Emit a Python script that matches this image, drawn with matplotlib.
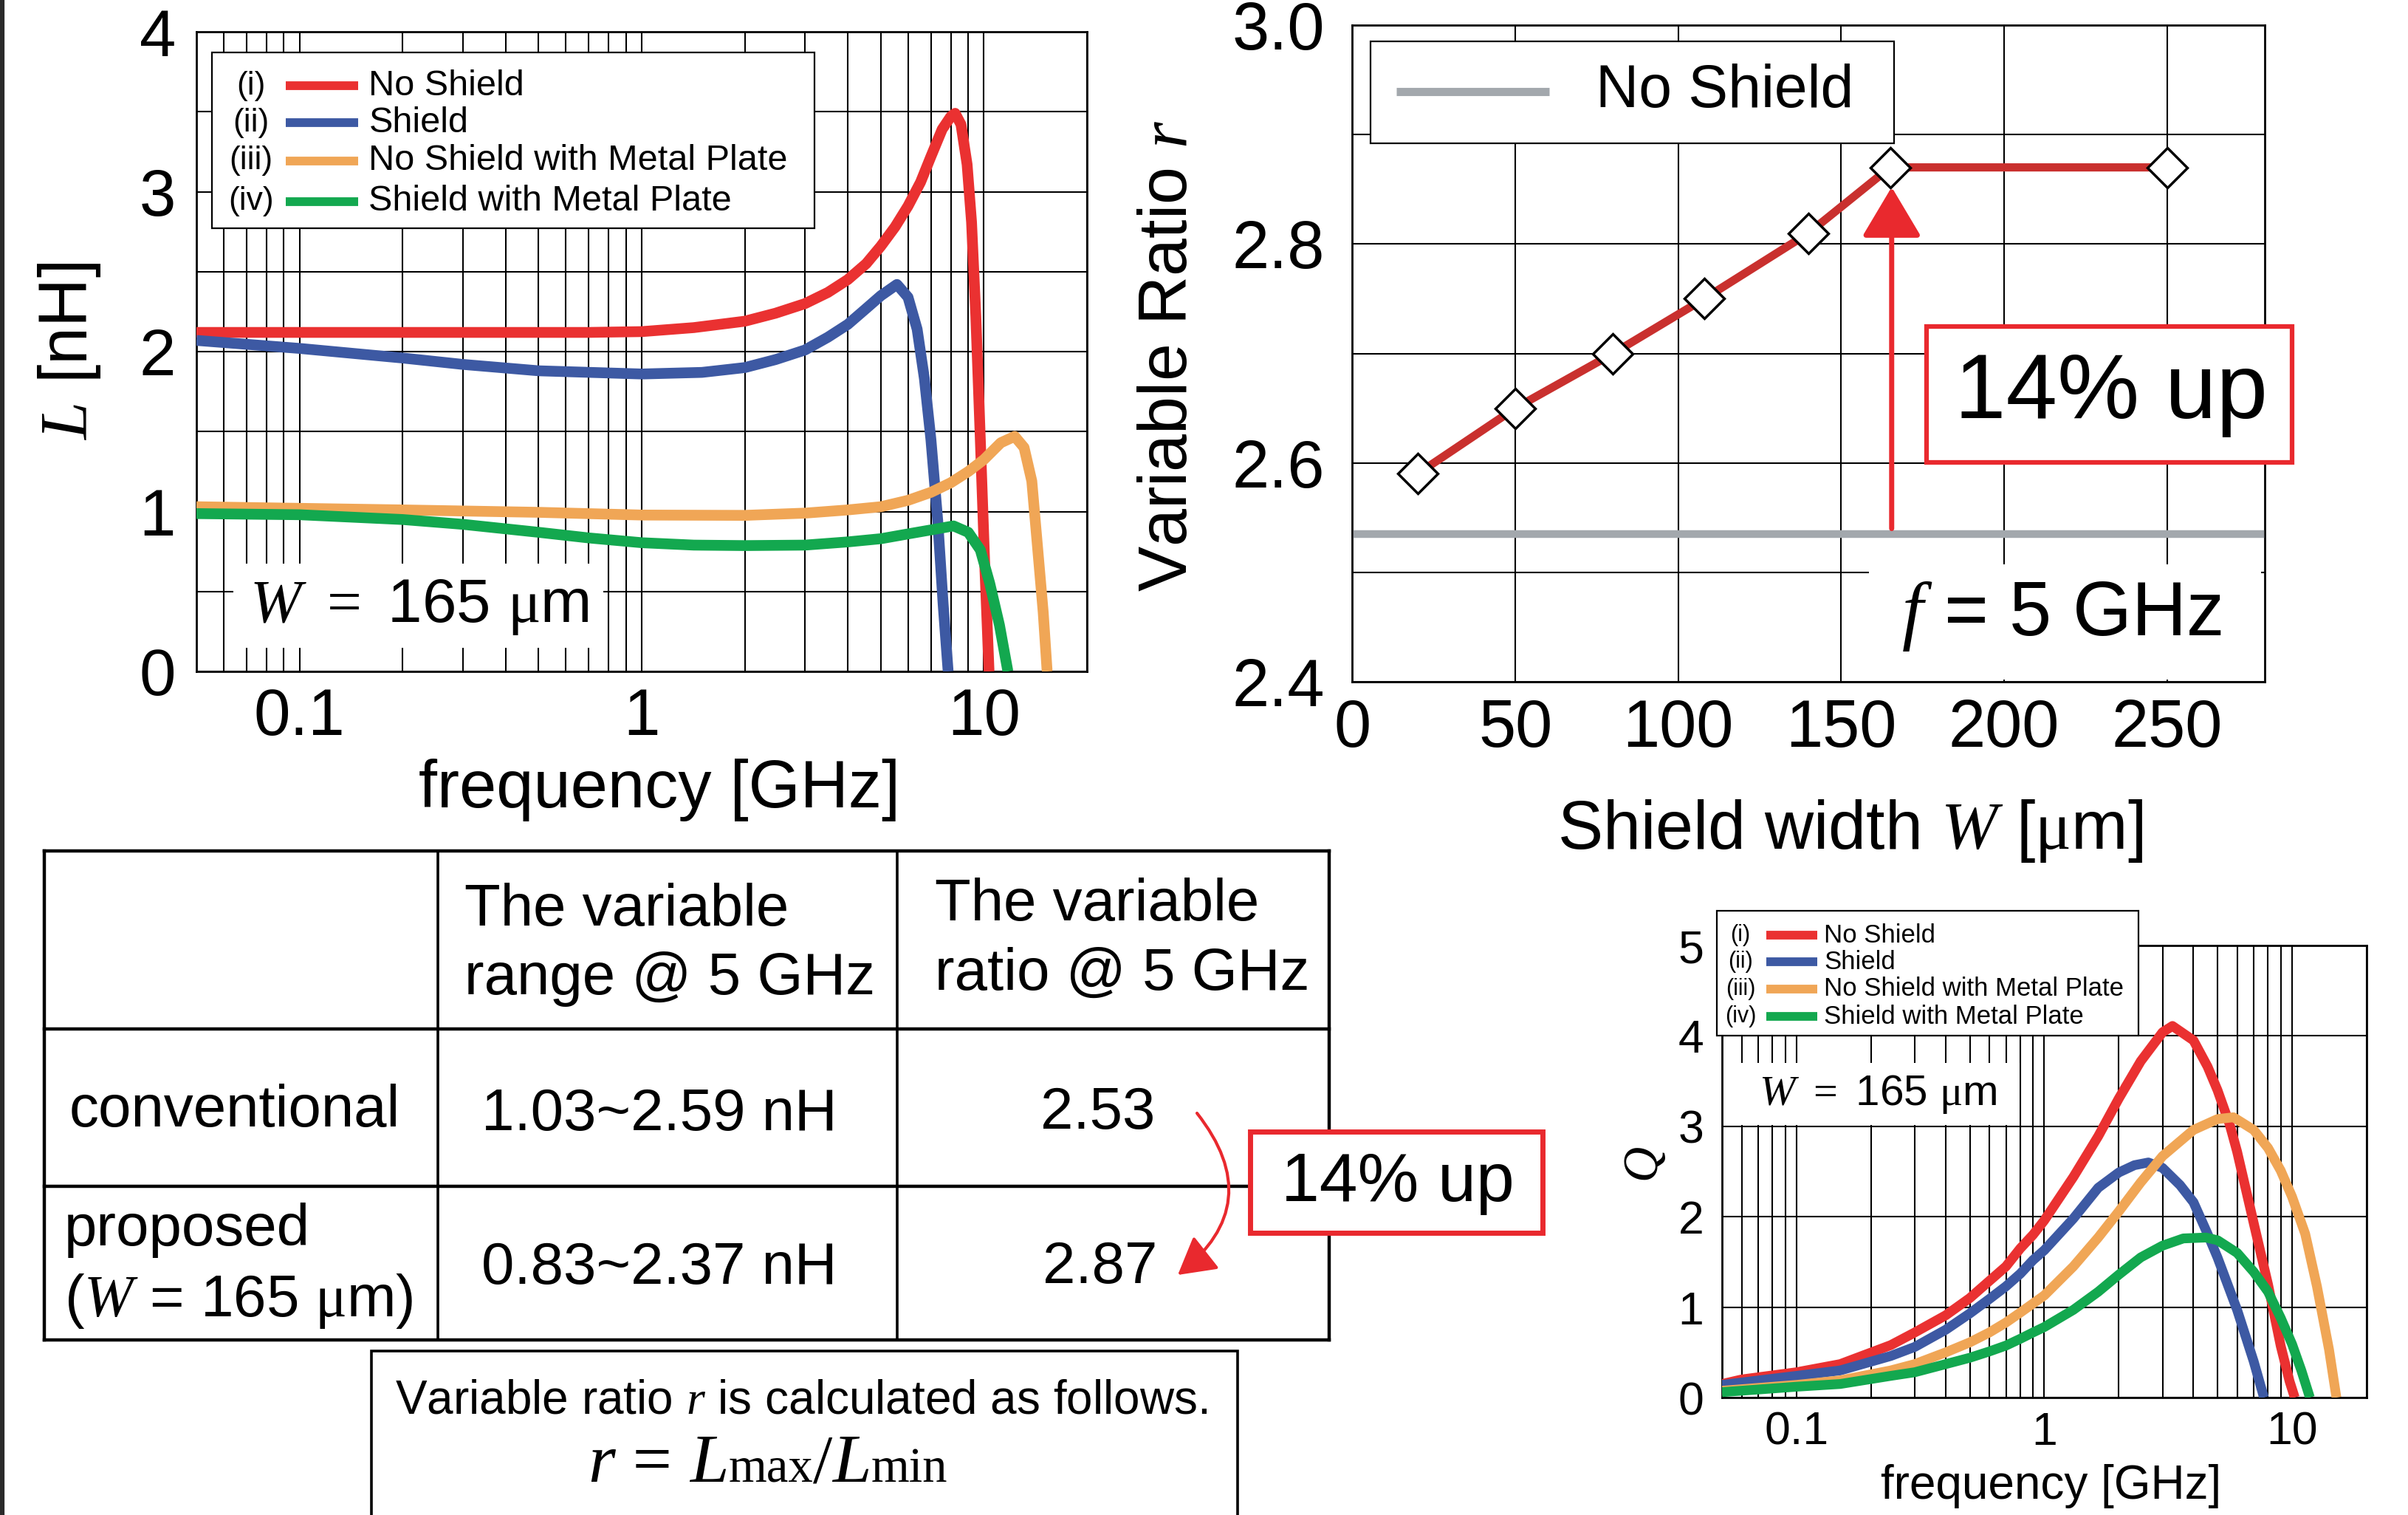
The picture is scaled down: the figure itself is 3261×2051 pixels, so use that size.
import numpy as np
import matplotlib
matplotlib.use("Agg")
import matplotlib.pyplot as plt
from matplotlib.patches import Rectangle
from matplotlib.offsetbox import TextArea, HPacker, AnnotationBbox
from matplotlib.ticker import LogLocator, NullFormatter, MultipleLocator

plt.rcParams['font.family'] = ['Liberation Sans', 'DejaVu Sans']
plt.rcParams['mathtext.fontset'] = 'custom'
plt.rcParams['mathtext.rm'] = 'Liberation Serif'
plt.rcParams['mathtext.it'] = 'Liberation Serif:italic'
plt.rcParams['mathtext.bf'] = 'Liberation Serif:bold'
plt.rcParams['axes.linewidth'] = 2.0

# ---------------- data ----------------
series_names = ['No Shield', 'Shield', 'No Shield with Metal Plate', 'Shield with Metal Plate']
series_numerals = ['(i)', '(ii)', '(iii)', '(iv)']
series_colors = ['#EA3131', '#3D59A3', '#F0A656', '#13A84F']

freq_ticks = [0.1, 1, 10]
freq_ticklabels = ['0.1', '1', '10']

# Inductance L [nH] vs frequency [GHz]
freq_L_noshield = [0.05, 0.1, 0.3, 0.7, 1.0, 1.42, 2.0, 2.46, 3.0, 3.5, 4.0, 4.53, 5.0, 5.5, 6.0,
                   6.53, 7.0, 7.55, 8.0, 8.24, 8.57, 8.93, 9.2, 9.47, 9.76, 10.05, 10.35]
L_noshield = [2.12, 2.12, 2.12, 2.12, 2.125, 2.15, 2.19, 2.24, 2.30, 2.37, 2.45, 2.55, 2.66, 2.78,
              2.91, 3.06, 3.22, 3.39, 3.47, 3.49, 3.42, 3.17, 2.81, 2.22, 1.45, 0.68, 0.0]
freq_L_shield = [0.05, 0.1, 0.2, 0.3, 0.5, 1.0, 1.5, 2.0, 2.46, 3.0, 3.5, 4.0, 4.53, 5.0, 5.57,
                 6.0, 6.38, 6.7, 7.0, 7.33, 7.6, 7.86]
L_shield = [2.07, 2.02, 1.96, 1.92, 1.88, 1.86, 1.87, 1.90, 1.95, 2.01, 2.09, 2.17, 2.27, 2.35,
            2.42, 2.34, 2.14, 1.83, 1.45, 0.94, 0.42, 0.0]
freq_L_nsmp = [0.05, 0.1, 0.2, 0.5, 1.0, 2.0, 3.0, 4.0, 5.0, 6.0, 7.0, 8.0, 9.0, 10.0,
               11.2, 12.3, 13.1, 13.8, 14.3, 14.9, 15.3]
L_nsmp = [1.03, 1.02, 1.01, 0.995, 0.978, 0.976, 0.99, 1.01, 1.03, 1.07, 1.12, 1.18, 1.25, 1.325,
          1.43, 1.47, 1.40, 1.19, 0.81, 0.37, 0.0]
freq_L_smp = [0.05, 0.1, 0.2, 0.3, 0.5, 0.7, 1.0, 1.42, 2.0, 3.0, 4.0, 5.0, 6.0, 7.0, 8.15,
              9.0, 9.76, 10.4, 11.1, 11.75]
L_smp = [0.987, 0.98, 0.95, 0.92, 0.87, 0.835, 0.805, 0.79, 0.787, 0.79, 0.81, 0.83, 0.86, 0.885,
         0.91, 0.87, 0.76, 0.55, 0.29, 0.0]

# Quality factor Q vs frequency [GHz]
freq_Q_noshield = [0.05, 0.06, 0.1, 0.15, 0.24, 0.3, 0.4, 0.5, 0.6, 0.7, 0.8, 0.9, 1.0, 1.31,
                   1.65, 2.0, 2.45, 3.0, 3.29, 4.0, 4.56, 5.0, 5.6, 6.0, 7.0, 8.0, 9.0, 9.77, 10.25]
Q_noshield = [0.15, 0.20, 0.28, 0.37, 0.58, 0.72, 0.91, 1.10, 1.29, 1.45, 1.65, 1.80, 1.96, 2.44,
              2.89, 3.31, 3.72, 4.04, 4.11, 3.95, 3.66, 3.40, 3.02, 2.72, 1.93, 1.25, 0.57, 0.18, 0.0]
freq_Q_shield = [0.05, 0.1, 0.15, 0.24, 0.3, 0.4, 0.5, 0.6, 0.7, 0.8, 0.9, 1.0, 1.31, 1.65,
                 2.0, 2.31, 2.63, 3.0, 3.53, 4.0, 4.56, 5.0, 6.0, 7.0, 7.7]
Q_shield = [0.14, 0.24, 0.30, 0.46, 0.56, 0.75, 0.93, 1.09, 1.23, 1.37, 1.52, 1.63, 1.98, 2.32,
            2.49, 2.57, 2.60, 2.54, 2.35, 2.16, 1.81, 1.55, 0.97, 0.40, 0.0]
freq_Q_nsmp = [0.05, 0.1, 0.15, 0.24, 0.3, 0.4, 0.5, 0.6, 0.7, 0.8, 0.9, 1.0, 1.31, 1.65,
               2.0, 2.45, 3.0, 4.0, 5.0, 5.8, 7.0, 8.0, 9.0, 10.0, 11.3, 12.6, 14.1, 15.1]
Q_nsmp = [0.075, 0.14, 0.19, 0.30, 0.37, 0.50, 0.61, 0.72, 0.83, 0.94, 1.04, 1.13, 1.45, 1.77,
          2.06, 2.38, 2.67, 2.96, 3.08, 3.10, 2.96, 2.76, 2.51, 2.22, 1.81, 1.23, 0.53, 0.0]
freq_Q_smp = [0.05, 0.1, 0.15, 0.24, 0.3, 0.4, 0.5, 0.6, 0.7, 0.8, 0.9, 1.0, 1.31, 1.65,
              2.0, 2.45, 3.0, 3.64, 4.49, 5.0, 6.0, 7.0, 8.0, 9.0, 10.0, 10.9, 11.8]
Q_smp = [0.06, 0.12, 0.15, 0.24, 0.28, 0.37, 0.44, 0.51, 0.575, 0.65, 0.72, 0.78, 0.97, 1.17,
         1.36, 1.55, 1.68, 1.76, 1.77, 1.74, 1.60, 1.39, 1.17, 0.88, 0.59, 0.30, 0.0]

# Variable ratio vs shield width
shield_width_um = [20, 50, 80, 108, 140, 165, 250]
variable_ratio = [2.59, 2.65, 2.70, 2.75, 2.81, 2.87, 2.87]
noshield_ratio = 2.535
width_ticks = [0, 50, 100, 150, 200, 250]
ratio_ticks = [2.4, 2.6, 2.8, 3.0]
ratio_ticklabels = ['2.4', '2.6', '2.8', '3.0']

# Table
table_header = ['The variable\nrange @ 5 GHz', 'The variable\nratio @ 5 GHz']
table_rows = ['conventional', 'proposed']
table_range = ['1.03~2.59 nH', '0.83~2.37 nH']
table_ratio = ['2.53', '2.87']

L_series = [(freq_L_noshield, L_noshield), (freq_L_shield, L_shield),
            (freq_L_nsmp, L_nsmp), (freq_L_smp, L_smp)]
Q_series = [(freq_Q_noshield, Q_noshield), (freq_Q_shield, Q_shield),
            (freq_Q_nsmp, Q_nsmp), (freq_Q_smp, Q_smp)]

RED = '#E9292E'
W, H = 3262, 2051
fig = plt.figure(figsize=(W / 100, H / 100), dpi=100)

# ---------------- overlay (table, notes) in pixel coordinates ----------------
axT = fig.add_axes([0, 0, 1, 1])
axT.set_xlim(0, W)
axT.set_ylim(H, 0)
axT.axis('off')

axT.plot([3, 3], [0, H], color='#2a2a2a', lw=4.5)

tlw = 3.2
tx0, tx1, ty0, ty1 = 60, 1800, 1152, 1814
for y in (ty0, 1393, 1606, ty1):
    axT.plot([tx0, tx1], [y, y], color='black', lw=tlw, solid_capstyle='projecting')
for x in (tx0, tx1):
    axT.plot([x, x], [ty0, ty1], color='black', lw=tlw, solid_capstyle='projecting')
for x in (593, 1215):
    axT.plot([x, x], [ty0, ty1], color='black', lw=2.6)

tfs = 57.5
axT.text(629, 1253, table_header[0].split('\n')[0], fontsize=tfs, va='baseline')
axT.text(629, 1346, table_header[0].split('\n')[1], fontsize=tfs, va='baseline')
axT.text(1266, 1246, table_header[1].split('\n')[0], fontsize=tfs, va='baseline')
axT.text(1266, 1340, table_header[1].split('\n')[1], fontsize=tfs, va='baseline')
axT.text(94, 1525, table_rows[0], fontsize=tfs, va='baseline')
axT.text(87, 1686, table_rows[1], fontsize=tfs, va='baseline')
axT.text(87, 1782, r'($W$ = 165 $\mathrm{\mu}$m)', fontsize=tfs, va='baseline')
axT.text(652, 1530, table_range[0], fontsize=tfs, va='baseline')
axT.text(652, 1738, table_range[1], fontsize=tfs, va='baseline')
axT.text(1487, 1528, table_ratio[0], fontsize=tfs, va='baseline', ha='center')
axT.text(1490, 1737, table_ratio[1], fontsize=tfs, va='baseline', ha='center')

axT.annotate('', xy=(1595, 1726), xytext=(1621, 1507),
             arrowprops=dict(arrowstyle='-|>,head_length=31,head_width=17.6', mutation_scale=1,
                             connectionstyle='arc3,rad=-0.5', color=RED, lw=3,
                             shrinkA=0, shrinkB=0))
axT.add_patch(Rectangle((1693.5, 1531.5), 395.5, 137, fc='white', ec=RED, lw=5, zorder=3))
axT.text(1893, 1602, '14% up', fontsize=67, ha='center', va='center', zorder=4)

axT.add_patch(Rectangle((503, 1829), 1173, 300, fc='white', ec='black', lw=2.6, zorder=2))
axT.text(1085, 1914, r'Variable ratio $r$ is calculated as follows.', fontsize=46,
         ha='center', va='baseline', zorder=3)
big = dict(family='Liberation Serif', size=68)
small = dict(family='Liberation Serif', size=48)
parts = [TextArea('r', textprops=dict(big, style='italic')),
         TextArea(' = ', textprops=big),
         TextArea('L', textprops=dict(big, style='italic')),
         TextArea('max', textprops=small),
         TextArea('/', textprops=big),
         TextArea('L', textprops=dict(big, style='italic')),
         TextArea('min', textprops=small)]
pack = HPacker(children=parts, align='baseline', pad=0, sep=0)
ab = AnnotationBbox(pack, (1040, 2026), xycoords='data', box_alignment=(0.5, 0.0),
                    frameon=False, pad=0)
ab.set_zorder(4)
axT.add_artist(ab)


def style_freq_axis(ax, ylim, yticks, ystep, fs, xpad, ypad):
    ax.set_xscale('log')
    ax.set_xlim(0.05, 20)
    ax.set_ylim(*ylim)
    ax.set_xticks(freq_ticks)
    ax.set_xticklabels(freq_ticklabels)
    ax.xaxis.set_minor_locator(LogLocator(base=10, subs=np.arange(2, 10), numticks=50))
    ax.xaxis.set_minor_formatter(NullFormatter())
    ax.set_yticks(yticks)
    ax.set_yticklabels([str(v) for v in yticks])
    ax.yaxis.set_minor_locator(MultipleLocator(ystep))
    ax.grid(True, which='both', color='black', lw=1.5)
    ax.tick_params(which='both', length=0, labelsize=fs)
    ax.tick_params(axis='x', pad=xpad)
    ax.tick_params(axis='y', pad=ypad)


def draw_legend(ax, box, rows_y, x_num, x_h0, x_h1, x_txt, fs_txt, fs_num, lw_h):
    ax.add_patch(Rectangle((box[0], box[1]), box[2], box[3], transform=ax.transAxes,
                           fc='white', ec='black', lw=1.6, zorder=5, clip_on=False))
    for y, num, name, col in zip(rows_y, series_numerals, series_names, series_colors):
        ax.text(x_num, y, num, transform=ax.transAxes, ha='center', va='center',
                fontsize=fs_num, zorder=6)
        ax.plot([x_h0, x_h1], [y, y], transform=ax.transAxes, color=col, lw=lw_h,
                solid_capstyle='butt', zorder=6, clip_on=False)
        ax.text(x_txt, y, name, transform=ax.transAxes, ha='left', va='center',
                fontsize=fs_txt, zorder=6)


# ---------------- L vs frequency ----------------
axL = fig.add_axes([266 / W, 1 - 909 / H, 1206 / W, 866 / H])
style_freq_axis(axL, (0, 4), [0, 1, 2, 3, 4], 0.5, 64, 15, 20)
for (f, v), c in zip(L_series, series_colors):
    axL.plot(f, v, color=c, lw=10.5, solid_capstyle='butt', solid_joinstyle='round', zorder=3)
draw_legend(axL, (0.0177, 0.6925, 0.6763, 0.275), [0.9153, 0.8576, 0.798, 0.7345],
            0.061, 0.1005, 0.182, 0.1936, 35, 32, 8.5)
axL.add_patch(Rectangle((0.0415, 0.037), 0.4155, 0.132, transform=axL.transAxes,
                        fc='white', ec='none', zorder=2.5))
axL.text(0.25, 0.1005, r'$W$ $=$ 165 $\mathrm{\mu}$m', transform=axL.transAxes,
         ha='center', va='center', fontsize=60, zorder=4)
axL.set_ylabel(r'$L$ [nH]', fontsize=66)
axL.yaxis.set_label_coords(-0.105, 0.5)
axL.set_xlabel('frequency [GHz]', fontsize=65, va='center')
axL.xaxis.set_label_coords(0.52, -0.185)

# ---------------- variable ratio vs shield width ----------------
axR = fig.add_axes([1831.5 / W, 1 - 923 / H, 1235.5 / W, 889 / H])
axR.set_xlim(0, 280)
axR.set_ylim(2.4, 3.0)
axR.set_xticks(width_ticks)
axR.set_xticklabels([str(v) for v in width_ticks])
axR.set_yticks(ratio_ticks)
axR.set_yticklabels(ratio_ticklabels)
axR.yaxis.set_minor_locator(MultipleLocator(0.1))
axR.grid(True, which='both', color='black', lw=1.5)
axR.tick_params(which='both', length=0, labelsize=65)
axR.tick_params(axis='x', pad=16)
axR.tick_params(axis='y', pad=27)
axR.axhline(noshield_ratio, xmin=0.005, xmax=0.995, color='#A3A8AD', lw=7.5, zorder=3)
axR.plot(shield_width_um, variable_ratio, color='#C9302E', lw=8, marker='D', ms=27,
         mfc='white', mec='black', mew=2.5, zorder=4)
axR.annotate('', xy=(165.5, 2.852), xytext=(165.5, noshield_ratio + 0.005),
             arrowprops=dict(arrowstyle='-|>,head_length=42,head_width=25', mutation_scale=1,
                             color=RED, lw=5, shrinkA=0, shrinkB=0), zorder=5)
axR.add_patch(Rectangle((0.0198, 0.820), 0.574, 0.155, transform=axR.transAxes,
                        fc='white', ec='black', lw=1.6, zorder=5))
axR.plot([0.048, 0.2157], [0.899, 0.899], transform=axR.transAxes, color='#A3A8AD', lw=8,
         solid_capstyle='butt', zorder=6)
axR.text(0.2665, 0.899, 'No Shield', transform=axR.transAxes, ha='left', va='center',
         fontsize=58, zorder=6)
axR.add_patch(Rectangle((0.566, 0.003), 0.43, 0.176, transform=axR.transAxes,
                        fc='white', ec='none', zorder=2.5))
axR.text(0.777, 0.100, r'$f$ = 5 GHz', transform=axR.transAxes, ha='center', va='center',
         fontsize=74, zorder=4)
axR.add_patch(Rectangle((0.629, 0.334), 0.401, 0.207, transform=axR.transAxes,
                        fc='white', ec=RED, lw=4.5, zorder=6, clip_on=False))
axR.text(0.832, 0.4375, '14% up', transform=axR.transAxes, ha='center', va='center',
         fontsize=90, zorder=7)
axR.set_ylabel(r'Variable Ratio $r$', fontsize=66)
axR.yaxis.set_label_coords(-0.166, 0.497)
axR.set_xlabel(r'Shield width $W$ [$\mathrm{\mu}$m]', fontsize=66, va='center')
axR.xaxis.set_label_coords(0.5456, -0.227)

# ---------------- Q vs frequency ----------------
axQ = fig.add_axes([2332 / W, 1 - 1892 / H, 873 / W, 612 / H])
style_freq_axis(axQ, (0, 5), [0, 1, 2, 3, 4, 5], 1.0, 45, 12.7, 17.7)
for (f, v), c in zip(Q_series, series_colors):
    axQ.plot(f, v, color=c, lw=9.5, solid_capstyle='butt', solid_joinstyle='round', zorder=3)
draw_legend(axQ, (-0.008, 0.800, 0.654, 0.276), [1.0226, 0.964, 0.904, 0.8425],
            0.0287, 0.0693, 0.1473, 0.158, 25, 22, 8.5)
axQ.add_patch(Rectangle((0.027, 0.603), 0.435, 0.1375, transform=axQ.transAxes,
                        fc='white', ec='none', zorder=2.5))
axQ.text(0.242, 0.670, r'$W$ $=$ 165 $\mathrm{\mu}$m', transform=axQ.transAxes,
         ha='center', va='center', fontsize=42, zorder=4)
axQ.set_ylabel(r'$Q$', fontsize=48)
axQ.yaxis.set_label_coords(-0.084, 0.515)
axQ.set_xlabel('frequency [GHz]', fontsize=46, va='center')
axQ.xaxis.set_label_coords(0.51, -0.196)

fig.savefig('out.png', dpi=100)
